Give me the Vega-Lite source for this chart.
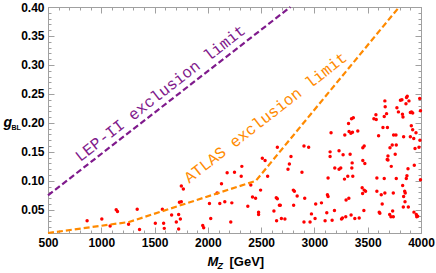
{
"$schema": "https://vega.github.io/schema/vega-lite/v6.json",
"width": 373, "height": 226,
"autosize": {"type": "none"},
"padding": {"left": 48, "top": 7, "right": 15, "bottom": 40},
"background": "white",
"config": {"view": {"stroke": null},
 "axis": {"grid": false, "domainColor": "#a0a0a0", "tickColor": "#a0a0a0", "labelFont": "Liberation Sans", "labelFontWeight": "bold", "labelFontSize": 12, "labelColor": "black", "labelFlush": false, "labelOverlap": false}},
"datasets": {
"pts": [
{"m":867,"g":0.031},{"m":1005,"g":0.034},{"m":1083,"g":0.022},{"m":1140,"g":0.050},{"m":1152,"g":0.047},{"m":1256,"g":0.025},{"m":1337,"g":0.051},{"m":1359,"g":0.016},{"m":1507,"g":0.027},{"m":1573,"g":0.051},{"m":1585,"g":0.027},{"m":1591,"g":0.018},{"m":1660,"g":0.041},{"m":1704,"g":0.029},{"m":1726,"g":0.042},{"m":1742,"g":0.034},{"m":1726,"g":0.017},{"m":1733,"g":0.063},{"m":1751,"g":0.064},{"m":1751,"g":0.091},{"m":1770,"g":0.086},
{"m":1952,"g":0.023},{"m":1961,"g":0.019},{"m":2015,"g":0.061},{"m":2027,"g":0.035},{"m":2087,"g":0.079},{"m":2112,"g":0.061},{"m":2128,"g":0.095},{"m":2159,"g":0.064},{"m":2181,"g":0.114},{"m":2215,"g":0.029},{"m":2225,"g":0.062},{"m":2250,"g":0.115},{"m":2313,"g":0.108},{"m":2319,"g":0.125},{"m":2375,"g":0.056},{"m":2403,"g":0.093},{"m":2419,"g":0.072},{"m":2448,"g":0.070},{"m":2476,"g":0.046},{"m":2476,"g":0.042},{"m":2495,"g":0.084},{"m":2511,"g":0.139},{"m":2537,"g":0.135},{"m":2561,"g":0.108},{"m":2620,"g":0.048},{"m":2642,"g":0.071},{"m":2652,"g":0.069},{"m":2645,"g":0.031},{"m":2671,"g":0.058},{"m":2680,"g":0.058},{"m":2690,"g":0.035},{"m":2723,"g":0.034},{"m":2752,"g":0.120},{"m":2765,"g":0.129},{"m":2802,"g":0.084},{"m":2812,"g":0.082},{"m":2805,"g":0.058},{"m":2838,"g":0.074},{"m":2652,"g":0.158},{"m":2780,"g":0.142},
{"m":2883,"g":0.115},{"m":2909,"g":0.070},{"m":2902,"g":0.029},{"m":2959,"g":0.029},{"m":2972,"g":0.043},{"m":3006,"g":0.035},{"m":3012,"g":0.060},{"m":3066,"g":0.062},{"m":3100,"g":0.031},{"m":3116,"g":0.045},{"m":3122,"g":0.076},{"m":3128,"g":0.073},{"m":3128,"g":0.105},{"m":3166,"g":0.032},{"m":3188,"g":0.049},{"m":3191,"g":0.122},{"m":3231,"g":0.120},{"m":3247,"g":0.122},{"m":3254,"g":0.034},{"m":3263,"g":0.036},{"m":3282,"g":0.103},{"m":3294,"g":0.038},{"m":3297,"g":0.067},{"m":3313,"g":0.108},{"m":3323,"g":0.070},{"m":3344,"g":0.041},{"m":3354,"g":0.131},{"m":3351,"g":0.122},{"m":3360,"g":0.108},{"m":3379,"g":0.035},{"m":3420,"g":0.036},{"m":3448,"g":0.088},{"m":3467,"g":0.084},{"m":3480,"g":0.082},{"m":3452,"g":0.078},{"m":3464,"g":0.049},{"m":3454,"g":0.135},{"m":3473,"g":0.130},{"m":3586,"g":0.105},{"m":3586,"g":0.082},{"m":3608,"g":0.046},{"m":3614,"g":0.044},{"m":3627,"g":0.076},{"m":3636,"g":0.060},{"m":3655,"g":0.104},{"m":3661,"g":0.079},{"m":3690,"g":0.136},{"m":3706,"g":0.042},{"m":3718,"g":0.038},{"m":3734,"g":0.048},{"m":3721,"g":0.125},{"m":3740,"g":0.038},{"m":3740,"g":0.079},{"m":3768,"g":0.104},{"m":3828,"g":0.092},{"m":3837,"g":0.073},{"m":3847,"g":0.082},{"m":3852,"g":0.079},{"m":3850,"g":0.064},{"m":3834,"g":0.055},{"m":3862,"g":0.104},{"m":3868,"g":0.109},{"m":3878,"g":0.121},{"m":3881,"g":0.055},{"m":3937,"g":0.127},{"m":3934,"g":0.046},{"m":3956,"g":0.042},{"m":3969,"g":0.039},{"m":3960,"g":0.038},{"m":3995,"g":0.102},
{"m":2902,"g":0.160},{"m":2946,"g":0.158},{"m":3156,"g":0.183},{"m":3147,"g":0.150},{"m":3147,"g":0.142},{"m":3231,"g":0.152},{"m":3269,"g":0.145},{"m":3285,"g":0.179},{"m":3320,"g":0.199},{"m":3325,"g":0.185},{"m":3342,"g":0.182},{"m":3357,"g":0.184},{"m":3335,"g":0.146},{"m":3348,"g":0.207},{"m":3365,"g":0.209},{"m":3407,"g":0.186},{"m":3454,"g":0.157},{"m":3467,"g":0.160},{"m":3558,"g":0.207},{"m":3580,"g":0.206},{"m":3577,"g":0.214},{"m":3602,"g":0.178},{"m":3643,"g":0.192},{"m":3655,"g":0.211},{"m":3661,"g":0.238},{"m":3664,"g":0.228},{"m":3677,"g":0.216},{"m":3685,"g":0.192},{"m":3690,"g":0.143},{"m":3683,"g":0.137},{"m":3709,"g":0.157},{"m":3730,"g":0.162},{"m":3743,"g":0.179},{"m":3765,"g":0.179},{"m":3758,"g":0.146},{"m":3768,"g":0.162},{"m":3774,"g":0.226},{"m":3788,"g":0.219},{"m":3807,"g":0.239},{"m":3821,"g":0.240},{"m":3826,"g":0.215},{"m":3831,"g":0.210},{"m":3837,"g":0.176},{"m":3864,"g":0.244},{"m":3871,"g":0.246},{"m":3859,"g":0.233},{"m":3887,"g":0.238},{"m":3900,"g":0.218},{"m":3911,"g":0.219},{"m":3922,"g":0.217},{"m":3900,"g":0.176},{"m":3909,"g":0.195},{"m":3922,"g":0.188},{"m":3932,"g":0.173},{"m":3944,"g":0.156},{"m":3953,"g":0.183},{"m":3981,"g":0.158},{"m":3988,"g":0.242},{"m":3995,"g":0.221},{"m":3990,"g":0.170}
],
"lines": [
{"series":"LEP","m":500,"g":0.075},{"series":"LEP","m":2775,"g":0.40},
{"series":"ATLAS","m":500,"g":0.01},{"series":"ATLAS","m":1260,"g":0.029},{"series":"ATLAS","m":2450,"g":0.10},{"series":"ATLAS","m":3795,"g":0.40}
],
"labels": [
{"series":"LEP","label":"LEP-II exclusion limit","m":1554,"g":0.251},
{"series":"ATLAS","label":"ATLAS exclusion limit","m":2542,"g":0.209}
]
},
"resolve": {"axis": {"x": "independent", "y": "independent"}},
"layer": [
{
 "data": {"name": "pts"},
 "mark": {"type": "circle", "size": 12, "color": "#ff0000", "opacity": 1},
 "encoding": {
  "x": {"field": "m", "type": "quantitative", "scale": {"domain": [500, 4000], "nice": false, "zero": false},
   "axis": {"orient": "bottom", "values": [500,1000,1500,2000,2500,3000,3500,4000], "format": "d", "tickSize": -6, "labelPadding": 10, "domain": true,
    "title": "M", "titleFont": "Liberation Sans", "titleFontStyle": "italic", "titleFontWeight": "bold", "titleFontSize": 13, "titleColor": "black",
    "titleX": 159, "titleY": 32, "titleAlign": "left", "titleBaseline": "alphabetic", "titleAngle": 0}},
  "y": {"field": "g", "type": "quantitative", "scale": {"domain": [0.01, 0.4], "nice": false, "zero": false},
   "axis": {"orient": "left", "values": [0.05,0.1,0.15,0.2,0.25,0.3,0.35,0.4], "format": ".2f", "tickSize": -6, "labelPadding": 10, "domain": true,
    "title": "g", "titleFont": "Liberation Sans", "titleFontStyle": "italic", "titleFontWeight": "bold", "titleFontSize": 14, "titleColor": "black",
    "titleX": -45, "titleY": 119, "titleAlign": "left", "titleBaseline": "alphabetic", "titleAngle": 0}}
 }
},
{
 "data": {"name": "lines"},
 "transform": [{"filter": "datum.series == 'LEP'"}],
 "mark": {"type": "line", "strokeWidth": 2.2, "strokeDash": [6, 3]},
 "encoding": {
  "x": {"field": "m", "type": "quantitative",
   "axis": {"orient": "bottom", "values": [500,600,700,800,900,1000,1100,1200,1300,1400,1500,1600,1700,1800,1900,2000,2100,2200,2300,2400,2500,2600,2700,2800,2900,3000,3100,3200,3300,3400,3500,3600,3700,3800,3900,4000], "tickSize": -3, "labels": false, "domain": false,
    "title": "Z", "titleFont": "Liberation Sans", "titleFontStyle": "italic", "titleFontWeight": "bold", "titleFontSize": 9, "titleColor": "black",
    "titleX": 169, "titleY": 35, "titleAlign": "left", "titleBaseline": "alphabetic", "titleAngle": 0}},
  "y": {"field": "g", "type": "quantitative",
   "axis": {"orient": "left", "values": [0.01,0.02,0.03,0.04,0.05,0.06,0.07,0.08,0.09,0.1,0.11,0.12,0.13,0.14,0.15,0.16,0.17,0.18,0.19,0.2,0.21,0.22,0.23,0.24,0.25,0.26,0.27,0.28,0.29,0.3,0.31,0.32,0.33,0.34,0.35,0.36,0.37,0.38,0.39,0.4], "tickSize": -3, "labels": false, "domain": false,
    "title": "BL", "titleFont": "Liberation Sans", "titleFontWeight": "bold", "titleFontSize": 7, "titleColor": "black",
    "titleX": -37, "titleY": 122, "titleAlign": "left", "titleBaseline": "alphabetic", "titleAngle": 0}},
  "color": {"field": "series", "type": "nominal", "scale": {"domain": ["LEP", "ATLAS"], "range": ["#7f1a8c", "#ff8a00"]}, "legend": null}
 }
},
{
 "data": {"name": "lines"},
 "transform": [{"filter": "datum.series == 'ATLAS'"}],
 "mark": {"type": "line", "strokeWidth": 2.2, "strokeDash": [6, 3]},
 "encoding": {
  "x": {"field": "m", "type": "quantitative",
   "axis": {"orient": "top", "values": [500,1000,1500,2000,2500,3000,3500,4000], "tickSize": -6, "labels": false, "domain": true,
    "title": "[GeV]", "titleFont": "Liberation Sans", "titleFontWeight": "bold", "titleFontSize": 13, "titleColor": "black",
    "titleX": 181, "titleY": 258, "titleAlign": "left", "titleBaseline": "alphabetic", "titleAngle": 0}},
  "y": {"field": "g", "type": "quantitative",
   "axis": {"orient": "right", "values": [0.05,0.1,0.15,0.2,0.25,0.3,0.35,0.4], "tickSize": -6, "labels": false, "domain": true, "title": null}},
  "color": {"field": "series", "type": "nominal", "legend": null}
 }
},
{
 "data": {"name": "labels"},
 "mark": {"type": "text", "font": "Liberation Mono", "fontSize": 16, "angle": -38, "align": "center", "baseline": "middle"},
 "encoding": {
  "x": {"field": "m", "type": "quantitative",
   "axis": {"orient": "top", "values": [500,600,700,800,900,1000,1100,1200,1300,1400,1500,1600,1700,1800,1900,2000,2100,2200,2300,2400,2500,2600,2700,2800,2900,3000,3100,3200,3300,3400,3500,3600,3700,3800,3900,4000], "tickSize": -3, "labels": false, "domain": false, "title": null}},
  "y": {"field": "g", "type": "quantitative",
   "axis": {"orient": "right", "values": [0.01,0.02,0.03,0.04,0.05,0.06,0.07,0.08,0.09,0.1,0.11,0.12,0.13,0.14,0.15,0.16,0.17,0.18,0.19,0.2,0.21,0.22,0.23,0.24,0.25,0.26,0.27,0.28,0.29,0.3,0.31,0.32,0.33,0.34,0.35,0.36,0.37,0.38,0.39,0.4], "tickSize": -3, "labels": false, "domain": false, "title": null}},
  "text": {"field": "label", "type": "nominal"},
  "color": {"field": "series", "type": "nominal", "legend": null}
 }
}
]
}
